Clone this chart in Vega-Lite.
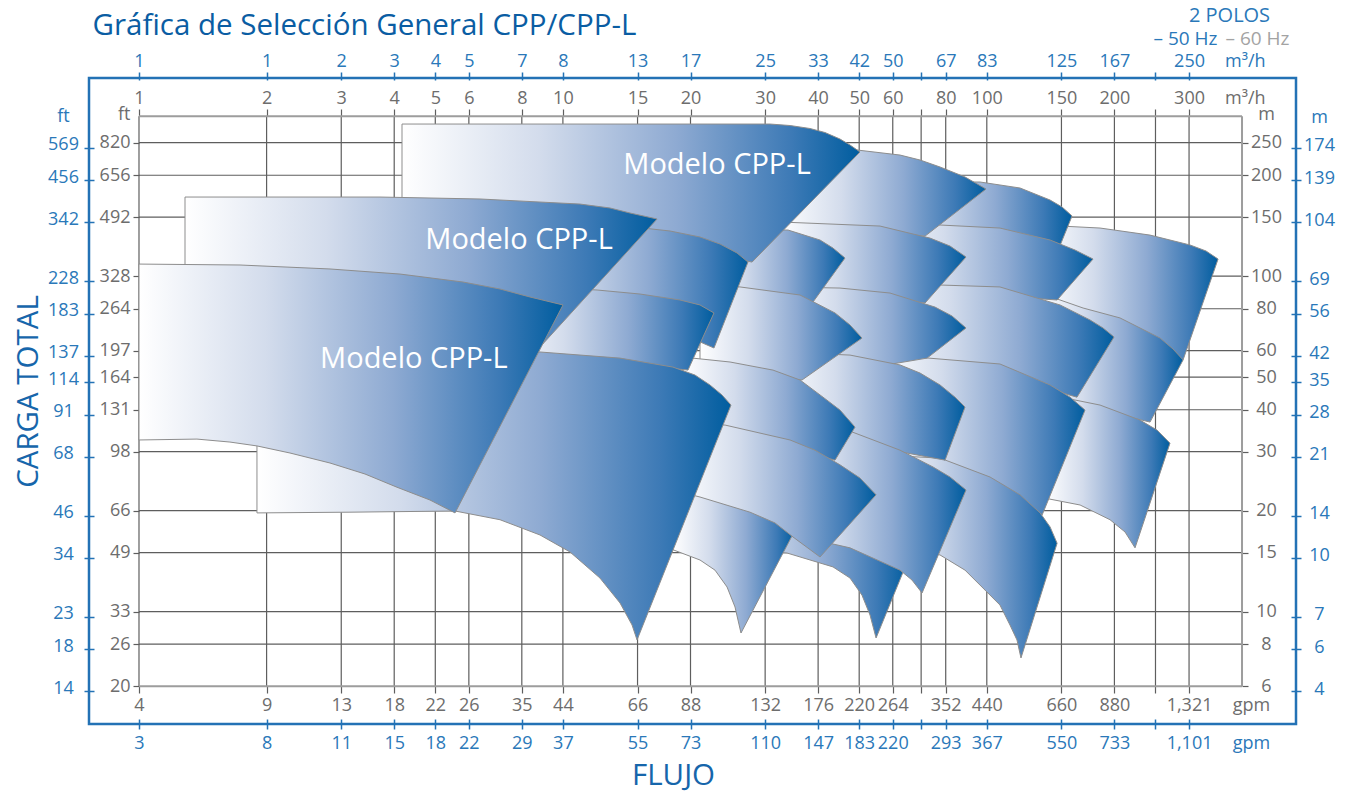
{
  "$schema": "https://vega.github.io/schema/vega-lite/v6.json",
  "width": 1207,
  "height": 646,
  "autosize": "none",
  "padding": {"left": 89, "top": 78, "right": 53, "bottom": 68},
  "background": "white",
  "config": {
    "view": {"stroke": "#2372b5", "strokeWidth": 2.5},
    "font": "Open Sans",
    "axis": {"labelFont": "Open Sans", "titleFont": "Open Sans", "labelFontSize": 18, "titleFontWeight": "normal", "labelOverlap": false, "labelFlush": false, "labelBound": false, "domain": false, "grid": false}
  },
  "datasets": {
    "tiles": [
      {"t":"t01","i":0,"q":133.6,"h":142.1},{"t":"t01","i":1,"q":185.0,"h":139.2},{"t":"t01","i":2,"q":242.7,"h":132.6},{"t":"t01","i":3,"q":301.6,"h":123.9},{"t":"t01","i":4,"q":329.0,"h":118.9},{"t":"t01","i":5,"q":351.2,"h":112.5},{"t":"t01","i":6,"q":290.4,"h":56.3},{"t":"t01","i":7,"q":206.2,"h":66.8},{"t":"t01","i":8,"q":133.6,"h":74.06},
      {"t":"t02","i":0,"q":133.6,"h":89.1},{"t":"t02","i":1,"q":168.7,"h":80.4},{"t":"t02","i":2,"q":206.2,"h":75.1},{"t":"t02","i":3,"q":256.3,"h":65.4},{"t":"t02","i":4,"q":275.0,"h":60.67},{"t":"t02","i":5,"q":290.4,"h":56.3},{"t":"t02","i":6,"q":242.7,"h":36.75},{"t":"t02","i":7,"q":185.0,"h":39.9},{"t":"t02","i":8,"q":133.6,"h":42.76},
      {"t":"t03","i":0,"q":137.2,"h":44.57},{"t":"t03","i":1,"q":185.0,"h":41.3},{"t":"t03","i":2,"q":229.9,"h":37.25},{"t":"t03","i":3,"q":252.0,"h":34.8},{"t":"t03","i":4,"q":270.5,"h":31.8},{"t":"t03","i":5,"q":223.7,"h":15.5},{"t":"t03","i":6,"q":211.9,"h":17.28},{"t":"t03","i":7,"q":195.3,"h":18.8},{"t":"t03","i":8,"q":166.0,"h":20.8},{"t":"t03","i":9,"q":137.2,"h":21.8},
      {"t":"t04","i":0,"q":55.98,"h":190.9},{"t":"t04","i":1,"q":96.38,"h":190.9},{"t":"t04","i":2,"q":119.8,"h":183.2},{"t":"t04","i":3,"q":141.0,"h":168.7},{"t":"t04","i":4,"q":150.5,"h":160.8},{"t":"t04","i":5,"q":158.9,"h":151.2},{"t":"t04","i":6,"q":142.6,"h":108.0},{"t":"t04","i":7,"q":55.98,"h":111.8},
      {"t":"t05","i":0,"q":55.98,"h":145.1},{"t":"t05","i":1,"q":107.4,"h":139.2},{"t":"t05","i":2,"q":141.0,"h":128.2},{"t":"t05","i":3,"q":161.5,"h":119.7},{"t":"t05","i":4,"q":178.1,"h":112.5},{"t":"t05","i":5,"q":146.5,"h":84.95},{"t":"t05","i":6,"q":107.4,"h":87.3},{"t":"t05","i":7,"q":55.98,"h":89.7},
      {"t":"t06","i":0,"q":55.98,"h":95.4},{"t":"t06","i":1,"q":107.4,"h":92.9},{"t":"t06","i":2,"q":148.9,"h":82.1},{"t":"t06","i":3,"q":175.2,"h":74.06},{"t":"t06","i":4,"q":188.0,"h":70.1},{"t":"t06","i":5,"q":199.6,"h":65.9},{"t":"t06","i":6,"q":163.2,"h":43.6},{"t":"t06","i":7,"q":107.4,"h":50.76},{"t":"t06","i":8,"q":55.98,"h":54.4},
      {"t":"t07","i":0,"q":55.98,"h":58.6},{"t":"t07","i":1,"q":107.4,"h":54.75},{"t":"t07","i":2,"q":141.0,"h":47.4},{"t":"t07","i":3,"q":157.2,"h":43.6},{"t":"t07","i":4,"q":170.5,"h":39.9},{"t":"t07","i":5,"q":135.0,"h":19.4},{"t":"t07","i":6,"q":107.4,"h":23.06},{"t":"t07","i":7,"q":55.98,"h":25.55},
      {"t":"t08","i":0,"q":55.98,"h":29.31},{"t":"t08","i":1,"q":77.58,"h":28.7},{"t":"t08","i":2,"q":101.8,"h":25.2},{"t":"t08","i":3,"q":119.8,"h":22.3},{"t":"t08","i":4,"q":133.6,"h":19.7},{"t":"t08","i":5,"q":141.0,"h":17.9},{"t":"t08","i":6,"q":146.5,"h":16.0},{"t":"t08","i":7,"q":120.4,"h":7.28},{"t":"t08","i":8,"q":117.8,"h":8.24},{"t":"t08","i":9,"q":113.4,"h":9.13},{"t":"t08","i":10,"q":107.4,"h":10.47},{"t":"t08","i":11,"q":99.04,"h":11.6},{"t":"t08","i":12,"q":88.85,"h":13.3},{"t":"t08","i":13,"q":77.58,"h":14.76},{"t":"t08","i":14,"q":55.98,"h":16.36},
      {"t":"t09","i":0,"q":32.52,"h":241.1},{"t":"t09","i":1,"q":49.41,"h":237.8},{"t":"t09","i":2,"q":62.42,"h":229.7},{"t":"t09","i":3,"q":69.59,"h":222.0},{"t":"t09","i":4,"q":77.58,"h":211.6},{"t":"t09","i":5,"q":88.85,"h":197.6},{"t":"t09","i":6,"q":99.58,"h":181.9},{"t":"t09","i":7,"q":71.5,"h":131.7},{"t":"t09","i":8,"q":47.57,"h":138.2},{"t":"t09","i":9,"q":32.52,"h":145.1},
      {"t":"t10","i":0,"q":32.52,"h":145.1},{"t":"t10","i":1,"q":55.98,"h":141.1},{"t":"t10","i":2,"q":73.47,"h":129.9},{"t":"t10","i":3,"q":81.9,"h":123.0},{"t":"t10","i":4,"q":89.33,"h":114.1},{"t":"t10","i":5,"q":71.5,"h":83.2},{"t":"t10","i":6,"q":55.98,"h":86.1},{"t":"t10","i":7,"q":32.52,"h":89.7},
      {"t":"t11","i":0,"q":32.52,"h":92.9},{"t":"t11","i":1,"q":45.05,"h":92.2},{"t":"t11","i":2,"q":59.11,"h":89.1},{"t":"t11","i":3,"q":75.49,"h":80.9},{"t":"t11","i":4,"q":82.79,"h":76.1},{"t":"t11","i":5,"q":89.33,"h":70.1},{"t":"t11","i":6,"q":72.28,"h":57.0},{"t":"t11","i":7,"q":55.98,"h":53.99},{"t":"t11","i":8,"q":32.52,"h":55.5},
      {"t":"t12","i":0,"q":32.52,"h":59.45},{"t":"t12","i":1,"q":47.57,"h":58.2},{"t":"t12","i":2,"q":62.42,"h":54.4},{"t":"t12","i":3,"q":69.59,"h":51.45},{"t":"t12","i":4,"q":77.58,"h":47.4},{"t":"t12","i":5,"q":84.15,"h":43.6},{"t":"t12","i":6,"q":88.85,"h":40.75},{"t":"t12","i":7,"q":79.71,"h":28.3},{"t":"t12","i":8,"q":55.98,"h":30.75},{"t":"t12","i":9,"q":32.52,"h":34.33},
      {"t":"t13","i":0,"q":21.06,"h":20.8},{"t":"t13","i":1,"q":32.52,"h":18.1},{"t":"t13","i":2,"q":47.57,"h":15.8},{"t":"t13","i":3,"q":65.19,"h":14.26},{"t":"t13","i":4,"q":54.8,"h":8.35},{"t":"t13","i":5,"q":53.03,"h":9.776},{"t":"t13","i":6,"q":50.77,"h":11.2},{"t":"t13","i":7,"q":47.57,"h":12.6},{"t":"t13","i":8,"q":43.37,"h":13.6},{"t":"t13","i":9,"q":33.79,"h":14.96},{"t":"t13","i":10,"q":21.06,"h":15.5},
      {"t":"t14","i":0,"q":32.52,"h":35.3},{"t":"t14","i":1,"q":46.8,"h":34.8},{"t":"t14","i":2,"q":62.42,"h":30.3},{"t":"t14","i":3,"q":74.68,"h":27.0},{"t":"t14","i":4,"q":81.9,"h":25.2},{"t":"t14","i":5,"q":89.33,"h":23.06},{"t":"t14","i":6,"q":70.35,"h":11.37},{"t":"t14","i":7,"q":66.6,"h":12.43},{"t":"t14","i":8,"q":62.42,"h":13.3},{"t":"t14","i":9,"q":47.57,"h":15.5},{"t":"t14","i":10,"q":32.52,"h":17.28},
      {"t":"t15","i":0,"q":21.06,"h":138.2},{"t":"t15","i":1,"q":33.97,"h":137.3},{"t":"t15","i":2,"q":40.42,"h":128.2},{"t":"t15","i":3,"q":43.37,"h":121.3},{"t":"t15","i":4,"q":46.29,"h":113.3},{"t":"t15","i":5,"q":38.91,"h":83.8},{"t":"t15","i":6,"q":21.06,"h":87.9},
      {"t":"t16","i":0,"q":21.06,"h":94.1},{"t":"t16","i":1,"q":26.17,"h":92.9},{"t":"t16","i":2,"q":36.26,"h":87.9},{"t":"t16","i":3,"q":43.85,"h":77.7},{"t":"t16","i":4,"q":47.57,"h":71.55},{"t":"t16","i":5,"q":50.77,"h":65.4},{"t":"t16","i":6,"q":36.65,"h":49.05},{"t":"t16","i":7,"q":21.06,"h":53.26},
      {"t":"t17","i":0,"q":19.2,"h":57.4},{"t":"t17","i":1,"q":24.79,"h":55.5},{"t":"t17","i":2,"q":31.31,"h":52.5},{"t":"t17","i":3,"q":36.26,"h":49.05},{"t":"t17","i":4,"q":41.08,"h":43.6},{"t":"t17","i":5,"q":45.05,"h":39.9},{"t":"t17","i":6,"q":48.88,"h":35.5},{"t":"t17","i":7,"q":43.85,"h":28.3},{"t":"t17","i":8,"q":32.52,"h":31.4},{"t":"t17","i":9,"q":19.2,"h":34.33},
      {"t":"t18","i":0,"q":18.18,"h":23.37},{"t":"t18","i":1,"q":24.79,"h":21.52},{"t":"t18","i":2,"q":35.28,"h":17.5},{"t":"t18","i":3,"q":26.31,"h":8.64},{"t":"t18","i":4,"q":25.47,"h":10.33},{"t":"t18","i":5,"q":24.39,"h":11.85},{"t":"t18","i":6,"q":22.85,"h":13.3},{"t":"t18","i":7,"q":21.06,"h":14.26},{"t":"t18","i":8,"q":18.18,"h":15.3},
      {"t":"t19","i":0,"q":18.89,"h":36.5},{"t":"t19","i":1,"q":24.13,"h":36.0},{"t":"t19","i":2,"q":34.35,"h":32.5},{"t":"t19","i":3,"q":39.33,"h":30.3},{"t":"t19","i":4,"q":45.05,"h":27.4},{"t":"t19","i":5,"q":50.22,"h":25.03},{"t":"t19","i":6,"q":54.8,"h":22.3},{"t":"t19","i":7,"q":40.42,"h":14.56},{"t":"t19","i":8,"q":34.9,"h":16.7},{"t":"t19","i":9,"q":31.65,"h":18.39},{"t":"t19","i":10,"q":27.63,"h":19.8},{"t":"t19","i":11,"q":21.06,"h":21.97},{"t":"t19","i":12,"q":18.89,"h":22.75},
      {"t":"t20","i":0,"q":4.173,"h":284.2},{"t":"t20","i":1,"q":12.23,"h":284.2},{"t":"t20","i":2,"q":30.81,"h":284.2},{"t":"t20","i":3,"q":34.35,"h":281.3},{"t":"t20","i":4,"q":38.28,"h":275.6},{"t":"t20","i":5,"q":41.53,"h":268.1},{"t":"t20","i":6,"q":45.05,"h":256.4},{"t":"t20","i":7,"q":47.57,"h":246.1},{"t":"t20","i":8,"q":50.22,"h":234.6},{"t":"t20","i":9,"q":27.94,"h":110.2},{"t":"t20","i":10,"q":21.06,"h":118.1},{"t":"t20","i":11,"q":12.23,"h":128.2},{"t":"t20","i":12,"q":4.173,"h":137.3},
      {"t":"t21","i":0,"q":7.107,"h":143.1},{"t":"t21","i":1,"q":15.45,"h":139.2},{"t":"t21","i":2,"q":17.89,"h":136.4},{"t":"t21","i":3,"q":21.06,"h":130.9},{"t":"t21","i":4,"q":23.48,"h":124.7},{"t":"t21","i":5,"q":25.75,"h":117.3},{"t":"t21","i":6,"q":27.33,"h":110.2},{"t":"t21","i":7,"q":22.72,"h":61.1},{"t":"t21","i":8,"q":16.05,"h":74.06},{"t":"t21","i":9,"q":7.107,"h":84.95},
      {"t":"t22","i":0,"q":7.107,"h":94.1},{"t":"t22","i":1,"q":12.04,"h":90.97},{"t":"t22","i":2,"q":15.2,"h":88.5},{"t":"t22","i":3,"q":18.89,"h":84.95},{"t":"t22","i":4,"q":21.06,"h":82.1},{"t":"t22","i":5,"q":22.72,"h":77.7},{"t":"t22","i":6,"q":19.73,"h":52.5},{"t":"t22","i":7,"q":15.2,"h":54.4},{"t":"t22","i":8,"q":7.107,"h":57.0},
      {"t":"t23","i":0,"q":1.284,"h":172.2},{"t":"t23","i":1,"q":3.703,"h":172.2},{"t":"t23","i":2,"q":6.375,"h":169.9},{"t":"t23","i":3,"q":10.97,"h":164.1},{"t":"t23","i":4,"q":12.92,"h":159.7},{"t":"t23","i":5,"q":14.4,"h":154.3},{"t":"t23","i":6,"q":16.68,"h":148.1},{"t":"t23","i":7,"q":8.831,"h":61.5},{"t":"t23","i":8,"q":7.921,"h":52.5},{"t":"t23","i":9,"q":4.128,"h":74.06},{"t":"t23","i":10,"q":1.284,"h":84.95},
      {"t":"t24","i":0,"q":1.898,"h":66.8},{"t":"t24","i":1,"q":5.417,"h":62.4},{"t":"t24","i":2,"q":8.831,"h":59.45},{"t":"t24","i":3,"q":13.64,"h":57.0},{"t":"t24","i":4,"q":18.18,"h":53.6},{"t":"t24","i":5,"q":20.49,"h":50.76},{"t":"t24","i":6,"q":22.23,"h":47.4},{"t":"t24","i":7,"q":23.73,"h":44.26},{"t":"t24","i":8,"q":24.92,"h":41.3},{"t":"t24","i":9,"q":14.96,"h":8.24},{"t":"t24","i":10,"q":14.56,"h":9.13},{"t":"t24","i":11,"q":13.64,"h":10.615},{"t":"t24","i":12,"q":12.23,"h":12.6},{"t":"t24","i":13,"q":10.393,"h":15.07},{"t":"t24","i":14,"q":8.831,"h":16.93},{"t":"t24","i":15,"q":7.107,"h":18.8},{"t":"t24","i":16,"q":5.566,"h":19.96},{"t":"t24","i":17,"q":3.146,"h":19.8},{"t":"t24","i":18,"q":1.898,"h":19.7},
      {"t":"t25","i":0,"q":1.0,"h":108.7},{"t":"t25","i":1,"q":1.731,"h":108.0},{"t":"t25","i":2,"q":2.822,"h":105.1},{"t":"t25","i":3,"q":4.128,"h":101.5},{"t":"t25","i":4,"q":5.813,"h":96.1},{"t":"t25","i":5,"q":7.107,"h":91.6},{"t":"t25","i":6,"q":8.362,"h":86.7},{"t":"t25","i":7,"q":10.006,"h":82.1},{"t":"t25","i":8,"q":5.566,"h":19.7},{"t":"t25","i":9,"q":4.859,"h":21.52},{"t":"t25","i":10,"q":4.061,"h":23.5},{"t":"t25","i":11,"q":3.413,"h":25.73},{"t":"t25","i":12,"q":2.822,"h":27.75},{"t":"t25","i":13,"q":2.271,"h":29.72},{"t":"t25","i":14,"q":1.898,"h":31.2},{"t":"t25","i":15,"q":1.639,"h":32.04},{"t":"t25","i":16,"q":1.37,"h":32.7},{"t":"t25","i":17,"q":1.0,"h":32.5}
    ]
  },
  "resolve": {"scale": {"x": "shared", "y": "shared"}, "axis": {"x": "independent", "y": "independent"}},
  "layer": [
    {
      "data": {"values": [{"v":1},{"v":2},{"v":3},{"v":4},{"v":5},{"v":6},{"v":8},{"v":10},{"v":15},{"v":20},{"v":30},{"v":40},{"v":50},{"v":60},{"v":70},{"v":80},{"v":100},{"v":150},{"v":200},{"v":250},{"v":300}]},
      "mark": {"type": "rule", "color": "#5e5e5e", "strokeWidth": 1.2},
      "encoding": {
        "x": {"field": "v", "type": "quantitative", "scale": {"type": "log", "domain": [0.7622, 536.3], "nice": false},
          "axis": {"orient": "top", "offset": -2,
            "values": [1,2,3,4,5,6,8,10,15,20,30,40,50,60,70,80,100,150,200,250,300,406],
            "labelExpr": "['1','1','2','3','4','5','7','8','13','17','25','33','42','50','','67','83','125','167','','250','m³/h'][indexof([1,2,3,4,5,6,8,10,15,20,30,40,50,60,70,80,100,150,200,250,300,406], datum.value)]",
            "tickSize": 8, "tickWidth": 1.5, "tickColor": "#2372b5",
            "tickOpacity": {"condition": {"test": "datum.value > 401", "value": 0}, "value": 1},
            "labelColor": "#2a78b9", "labelPadding": 1.5,
            "title": "2 POLOS", "titleX": 1140, "titleY": -65, "titleAngle": 0, "titleAlign": "center", "titleBaseline": "middle", "titleFontSize": 20, "titleColor": "#2a78b9"}},
        "y": {"datum": 6, "type": "quantitative", "scale": {"type": "log", "domain": [4.627, 389.8], "nice": false}, "axis": null},
        "y2": {"datum": 300}
      }
    },
    {
      "data": {"values": [{"v":8},{"v":10},{"v":15},{"v":20},{"v":30},{"v":40},{"v":50},{"v":60},{"v":80},{"v":100},{"v":150},{"v":200},{"v":250}]},
      "mark": {"type": "rule", "color": "#5e5e5e", "strokeWidth": 1.2},
      "encoding": {
        "y": {"field": "v", "type": "quantitative", "scale": {"type": "log", "domain": [4.627, 389.8], "nice": false},
          "axis": {"orient": "left", "offset": -5,
            "values": [6,8,10,15,20,30,40,50,60,80,100,150,200,250,304],
            "labelExpr": "['14','18','23','34','46','68','91','114','137','183','228','342','456','569','ft'][indexof([6,8,10,15,20,30,40,50,60,80,100,150,200,250,304], datum.value)]",
            "tickSize": 10, "tickWidth": 1.5, "tickColor": "#2372b5", "tickOffset": 5, "labelOffset": -3,
            "tickOpacity": {"condition": {"test": "datum.value > 301", "value": 0}, "value": 1},
            "labelAlign": "center", "labelPadding": 21, "labelColor": "#2a78b9",
            "title": "CARGA TOTAL", "titleX": -66, "titleY": 313, "titleAngle": 270, "titleAlign": "center", "titleBaseline": "middle", "titleFontSize": 29.5, "titleColor": "#1666ab"}},
        "x": {"datum": 1, "type": "quantitative", "scale": {"type": "log", "domain": [0.7622, 536.3], "nice": false}, "axis": null},
        "x2": {"datum": 400}
      }
    },
    {
      "data": {"values": [{"v":6},{"v":300}]},
      "mark": {"type": "rule", "color": "#9d9d9d", "strokeWidth": 2},
      "encoding": {
        "y": {"field": "v", "type": "quantitative", "scale": {"type": "log", "domain": [4.627, 389.8], "nice": false},
          "axis": {"orient": "left", "offset": -50,
            "values": [6,8,10,15,20,30,40,50,60,80,100,150,200,250,304],
            "labelExpr": "['20','26','33','49','66','98','131','164','197','264','328','492','656','820','ft'][indexof([6,8,10,15,20,30,40,50,60,80,100,150,200,250,304], datum.value)]",
            "tickSize": 6, "tickWidth": 1.2, "tickColor": "#5e5e5e",
            "tickOpacity": {"condition": {"test": "datum.value > 301", "value": 0}, "value": 1},
            "labelPadding": 3, "labelColor": "#6d6d6d", "title": null}},
        "x": {"datum": 1, "type": "quantitative", "scale": {"type": "log", "domain": [0.7622, 536.3], "nice": false}, "axis": null},
        "x2": {"datum": 400}
      }
    },
    {
      "data": {"values": [{"v":400}]},
      "mark": {"type": "rule", "color": "#9d9d9d", "strokeWidth": 2},
      "encoding": {
        "x": {"field": "v", "type": "quantitative", "scale": {"type": "log", "domain": [0.7622, 536.3], "nice": false},
          "axis": {"orient": "top", "offset": -38,
            "values": [1,2,3,4,5,6,8,10,15,20,30,40,50,60,70,80,100,150,200,250,300,406],
            "labelExpr": "['1','2','3','4','5','6','8','10','15','20','30','40','50','60','','80','100','150','200','','300','m³/h'][indexof([1,2,3,4,5,6,8,10,15,20,30,40,50,60,70,80,100,150,200,250,300,406], datum.value)]",
            "tickSize": 7, "tickWidth": 1.2, "tickColor": "#5e5e5e",
            "tickOpacity": {"condition": {"test": "datum.value > 401", "value": 0}, "value": 1},
            "labelColor": "#6d6d6d", "labelPadding": 2,
            "title": "Gráfica de Selección General CPP/CPP-L", "titleX": 3, "titleY": -82, "titleAngle": 0, "titleAlign": "left", "titleBaseline": "alphabetic", "titleFontSize": 29.5, "titleColor": "#0a5da3"}},
        "y": {"datum": 6, "type": "quantitative", "scale": {"type": "log", "domain": [4.627, 389.8], "nice": false}, "axis": null},
        "y2": {"datum": 300}
      }
    },
    {
      "data": {"name": "tiles"},
      "mark": {"type": "line", "interpolate": "linear-closed", "stroke": "#8d8d8d", "strokeWidth": 1, "strokeJoin": "miter",
        "fill": {"gradient": "linear", "x1": 0, "y1": 0, "x2": 1, "y2": 0,
          "stops": [{"offset": 0, "color": "#ffffff"}, {"offset": 0.3, "color": "#d3dcec"}, {"offset": 0.6, "color": "#8eaad2"}, {"offset": 0.85, "color": "#3d7ab6"}, {"offset": 1, "color": "#005d9f"}]}},
      "encoding": {
        "x": {"field": "q", "type": "quantitative", "scale": {"type": "log", "domain": [0.7622, 536.3], "nice": false},
          "axis": {"orient": "bottom", "offset": -38,
            "values": [1,2,3,4,5,6,8,10,15,20,30,40,50,60,70,80,100,150,200,250,300,420],
            "labelExpr": "['4','9','13','18','22','26','35','44','66','88','132','176','220','264','','352','440','660','880','','1,321','gpm'][indexof([1,2,3,4,5,6,8,10,15,20,30,40,50,60,70,80,100,150,200,250,300,420], datum.value)]",
            "tickSize": 7, "tickWidth": 1.2, "tickColor": "#5e5e5e",
            "tickOpacity": {"condition": {"test": "datum.value > 401", "value": 0}, "value": 1},
            "labelColor": "#6d6d6d", "labelPadding": 3, "title": null}},
        "y": {"field": "h", "type": "quantitative", "scale": {"type": "log", "domain": [4.627, 389.8], "nice": false},
          "axis": {"orient": "right", "offset": -54,
            "values": [6,8,10,15,20,30,40,50,60,80,100,150,200,250,304],
            "labelExpr": "['6','8','10','15','20','30','40','50','60','80','100','150','200','250','m'][indexof([6,8,10,15,20,30,40,50,60,80,100,150,200,250,304], datum.value)]",
            "tickSize": 6, "tickWidth": 1.2, "tickColor": "#5e5e5e",
            "tickOpacity": {"condition": {"test": "datum.value > 301", "value": 0}, "value": 1},
            "labelAlign": "center", "labelPadding": 18, "labelColor": "#6d6d6d",
            "title": "– 60 Hz", "titleX": -17, "titleY": -40, "titleAngle": 0, "titleAlign": "left", "titleBaseline": "middle", "titleFontSize": 19, "titleColor": "#a3a3a3"}},
        "detail": {"field": "t", "type": "nominal"},
        "order": {"field": "i", "type": "quantitative"}
      }
    },
    {
      "data": {"values": [
        {"q": 23.1, "h": 214.6, "label": "Modelo CPP-L"},
        {"q": 7.88, "h": 128.2, "label": "Modelo CPP-L"},
        {"q": 4.45, "h": 56.6, "label": "Modelo CPP-L"}
      ]},
      "mark": {"type": "text", "color": "white", "fontSize": 29, "font": "Open Sans", "align": "center", "baseline": "middle"},
      "encoding": {
        "x": {"field": "q", "type": "quantitative", "scale": {"type": "log", "domain": [0.7622, 536.3], "nice": false},
          "axis": {"orient": "bottom", "offset": -5,
            "values": [1,2,3,4,5,6,8,10,15,20,30,40,50,60,70,80,100,150,200,250,300,420],
            "labelExpr": "['3','8','11','15','18','22','29','37','55','73','110','147','183','220','','293','367','550','733','','1,101','gpm'][indexof([1,2,3,4,5,6,8,10,15,20,30,40,50,60,70,80,100,150,200,250,300,420], datum.value)]",
            "tickSize": 10, "tickWidth": 1.5, "tickColor": "#2372b5",
            "tickOpacity": {"condition": {"test": "datum.value > 401", "value": 0}, "value": 1},
            "labelColor": "#2a78b9", "labelPadding": 5.5,
            "title": "FLUJO", "titleX": 584, "titleY": 56, "titleAngle": 0, "titleAlign": "center", "titleBaseline": "middle", "titleFontSize": 29.5, "titleColor": "#1666ab"}},
        "y": {"field": "h", "type": "quantitative", "scale": {"type": "log", "domain": [4.627, 389.8], "nice": false},
          "axis": {"orient": "right", "offset": -5,
            "values": [6,8,10,15,20,30,40,50,60,80,100,150,200,250,304],
            "labelExpr": "['4','6','7','10','14','21','28','35','42','56','69','104','139','174','m'][indexof([6,8,10,15,20,30,40,50,60,80,100,150,200,250,304], datum.value)]",
            "tickSize": 10, "tickWidth": 1.5, "tickColor": "#2372b5", "tickOffset": 5, "labelOffset": -2,
            "tickOpacity": {"condition": {"test": "datum.value > 301", "value": 0}, "value": 1},
            "labelAlign": "center", "labelPadding": 18, "labelColor": "#2a78b9",
            "title": "– 50 Hz", "titleX": -138, "titleY": -40, "titleAngle": 0, "titleAlign": "left", "titleBaseline": "middle", "titleFontSize": 19, "titleColor": "#2a78b9"}},
        "text": {"field": "label", "type": "nominal"}
      }
    }
  ]
}
